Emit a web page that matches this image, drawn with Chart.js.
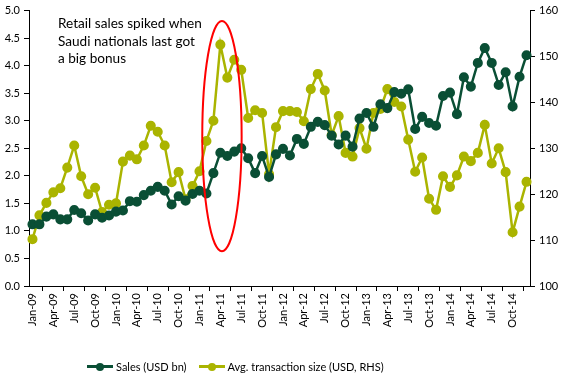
<!DOCTYPE html>
<html>
<head>
<meta charset="utf-8">
<script src="https://cdn.jsdelivr.net/npm/chart.js@4/dist/chart.umd.min.js"></script>
<style>
  body { margin: 0; background: #fff; font-family: Lato, sans-serif; }
  .chart-container { position: relative; width: 562px; height: 377px; }
  .legend { position: absolute; left: 87px; top: 360px; display: flex; align-items: center; font-size: 11px; color: #000; white-space: nowrap; }
  .legend .key { position: relative; display: inline-block; width: 26px; height: 3px; margin-right: 3px; }
  .legend .key::after { content: ''; position: absolute; left: 9px; top: -2.5px; width: 8px; height: 8px; border-radius: 50%; background: inherit; }
  .legend .item { display: flex; align-items: center; margin-right: 12px; }
</style>
</head>
<body>
<div class="chart-container">
  <canvas id="salesChart"></canvas>
  <div class="legend">
    <div class="item"><span class="key" style="background:#0A4F35"></span>Sales (USD bn)</div>
    <div class="item"><span class="key" style="background:#AAB400"></span>Avg. transaction size (USD, RHS)</div>
  </div>
</div>
<script>
const months = [
  'Jan-09','Feb-09','Mar-09','Apr-09','May-09','Jun-09','Jul-09','Aug-09','Sep-09','Oct-09','Nov-09','Dec-09',
  'Jan-10','Feb-10','Mar-10','Apr-10','May-10','Jun-10','Jul-10','Aug-10','Sep-10','Oct-10','Nov-10','Dec-10',
  'Jan-11','Feb-11','Mar-11','Apr-11','May-11','Jun-11','Jul-11','Aug-11','Sep-11','Oct-11','Nov-11','Dec-11',
  'Jan-12','Feb-12','Mar-12','Apr-12','May-12','Jun-12','Jul-12','Aug-12','Sep-12','Oct-12','Nov-12','Dec-12',
  'Jan-13','Feb-13','Mar-13','Apr-13','May-13','Jun-13','Jul-13','Aug-13','Sep-13','Oct-13','Nov-13','Dec-13',
  'Jan-14','Feb-14','Mar-14','Apr-14','May-14','Jun-14','Jul-14','Aug-14','Sep-14','Oct-14','Nov-14','Dec-14'
];

// retail sales, USD bn (left axis)
const sales = [
  1.12, 1.12, 1.26, 1.30, 1.21, 1.21, 1.38, 1.32, 1.19, 1.30, 1.24, 1.28,
  1.35, 1.37, 1.54, 1.53, 1.65, 1.73, 1.80, 1.73, 1.48, 1.63, 1.55, 1.67,
  1.73, 1.68, 2.05, 2.42, 2.36, 2.44, 2.50, 2.32, 2.05, 2.36, 1.98, 2.39,
  2.49, 2.37, 2.67, 2.58, 2.89, 2.98, 2.92, 2.73, 2.57, 2.73, 2.53, 3.04,
  3.14, 2.89, 3.30, 3.23, 3.52, 3.49, 3.57, 2.85, 3.07, 2.96, 2.91, 3.45,
  3.51, 3.12, 3.79, 3.62, 4.05, 4.32, 4.05, 3.65, 3.88, 3.26, 3.80, 4.19
];

// average transaction size, USD (right axis)
const avgTicket = [
  110.2, 115.4, 118.1, 120.4, 121.3, 125.8, 130.6, 123.9, 120.0, 121.4, 116.1, 117.7,
  118.0, 127.1, 128.4, 127.6, 130.6, 134.9, 133.6, 130.6, 122.6, 124.8, 118.9, 121.8,
  125.0, 131.6, 136.0, 152.6, 145.4, 149.3, 147.1, 136.6, 138.3, 137.7, 124.4, 134.6,
  138.1, 138.1, 137.9, 135.9, 142.9, 146.2, 142.6, 132.9, 137.0, 129.0, 128.2, 134.4,
  129.9, 137.7, 138.6, 142.9, 140.1, 139.1, 131.9, 124.9, 128.0, 119.0, 116.6, 123.9,
  121.6, 124.1, 128.2, 127.2, 129.0, 135.1, 126.7, 130.0, 124.8, 111.7, 117.3, 122.7
];

const leftTicks = { min: 0, max: 5, step: 0.5 };
const rightTicks = { min: 100, max: 160, step: 10 };

const noteLines = ['Retail sales spiked when', 'Saudi nationals last got', 'a big bonus'];

const tickFont = { family: 'Lato', size: 11 };

// red ellipse around the bonus spike + the note text
const notePlugin = {
  id: 'note',
  afterDatasetsDraw(chart) {
    const ctx = chart.ctx;
    const x = chart.scales.x;
    const y = chart.scales.y;
    const cx = x.getPixelForValue(27.23);
    const rx = x.getPixelForValue(27.23 + 2.83) - cx;
    const top = y.getPixelForValue(4.81);
    const bottom = y.getPixelForValue(0.63);
    ctx.save();
    ctx.beginPath();
    ctx.ellipse(cx, (top + bottom) / 2, rx, (bottom - top) / 2, 0, 0, Math.PI * 2);
    ctx.strokeStyle = '#FF0000';
    ctx.lineWidth = 2;
    ctx.stroke();

    ctx.fillStyle = '#000';
    ctx.font = '13.6px Lato';
    ctx.textBaseline = 'alphabetic';
    noteLines.forEach((line, i) => {
      ctx.fillText(line, 58, 28 + i * 17.5);
    });
    ctx.restore();
  }
};

document.addEventListener('DOMContentLoaded', () => {
  const ctx = document.getElementById('salesChart').getContext('2d');
  new Chart(ctx, {
    type: 'line',
    data: {
      labels: months,
      datasets: [{
        label: 'Sales (USD bn)',
        data: sales,
        yAxisID: 'y',
        borderColor: '#0A4F35',
        backgroundColor: '#0A4F35',
        borderWidth: 2.5,
        pointRadius: 3.8,
        pointHoverRadius: 3.8,
        tension: 0
      }, {
        label: 'Avg. transaction size (USD, RHS)',
        data: avgTicket,
        yAxisID: 'y1',
        borderColor: '#AAB400',
        backgroundColor: '#AAB400',
        borderWidth: 2.5,
        pointRadius: 3.8,
        pointHoverRadius: 3.8,
        tension: 0
      }]
    },
    options: {
      responsive: true,
      maintainAspectRatio: false,
      animation: false,
      layout: { padding: { top: 6 } },
      scales: {
        x: {
          offset: true,
          afterFit: (s) => { s.height = 91; },
          grid: { offset: true, drawOnChartArea: false, tickLength: 5, color: '#000' },
          border: { color: '#000' },
          ticks: {
            autoSkip: false,
            minRotation: 90,
            maxRotation: 90,
            padding: 2,
            color: '#000',
            font: tickFont,
            callback: function(value, index) {
              return index % 3 === 0 ? this.getLabelForValue(value) : null;
            }
          }
        },
        y: {
          position: 'left',
          min: leftTicks.min,
          max: leftTicks.max,
          afterFit: (s) => { s.width = 29; },
          grid: { drawOnChartArea: false, tickLength: 5, color: '#000' },
          border: { color: '#000' },
          ticks: {
            stepSize: leftTicks.step,
            padding: 4,
            color: '#000',
            font: tickFont,
            callback: (v) => v.toFixed(1)
          }
        },
        y1: {
          position: 'right',
          min: rightTicks.min,
          max: rightTicks.max,
          afterFit: (s) => { s.width = 32; },
          grid: { drawOnChartArea: false, tickLength: 5, color: '#000' },
          border: { color: '#000' },
          ticks: {
            stepSize: rightTicks.step,
            padding: 4,
            color: '#000',
            font: tickFont
          }
        }
      },
      plugins: {
        legend: { display: false },
        tooltip: { enabled: false }
      }
    },
    plugins: [notePlugin]
  });
});
</script>
</body>
</html>
